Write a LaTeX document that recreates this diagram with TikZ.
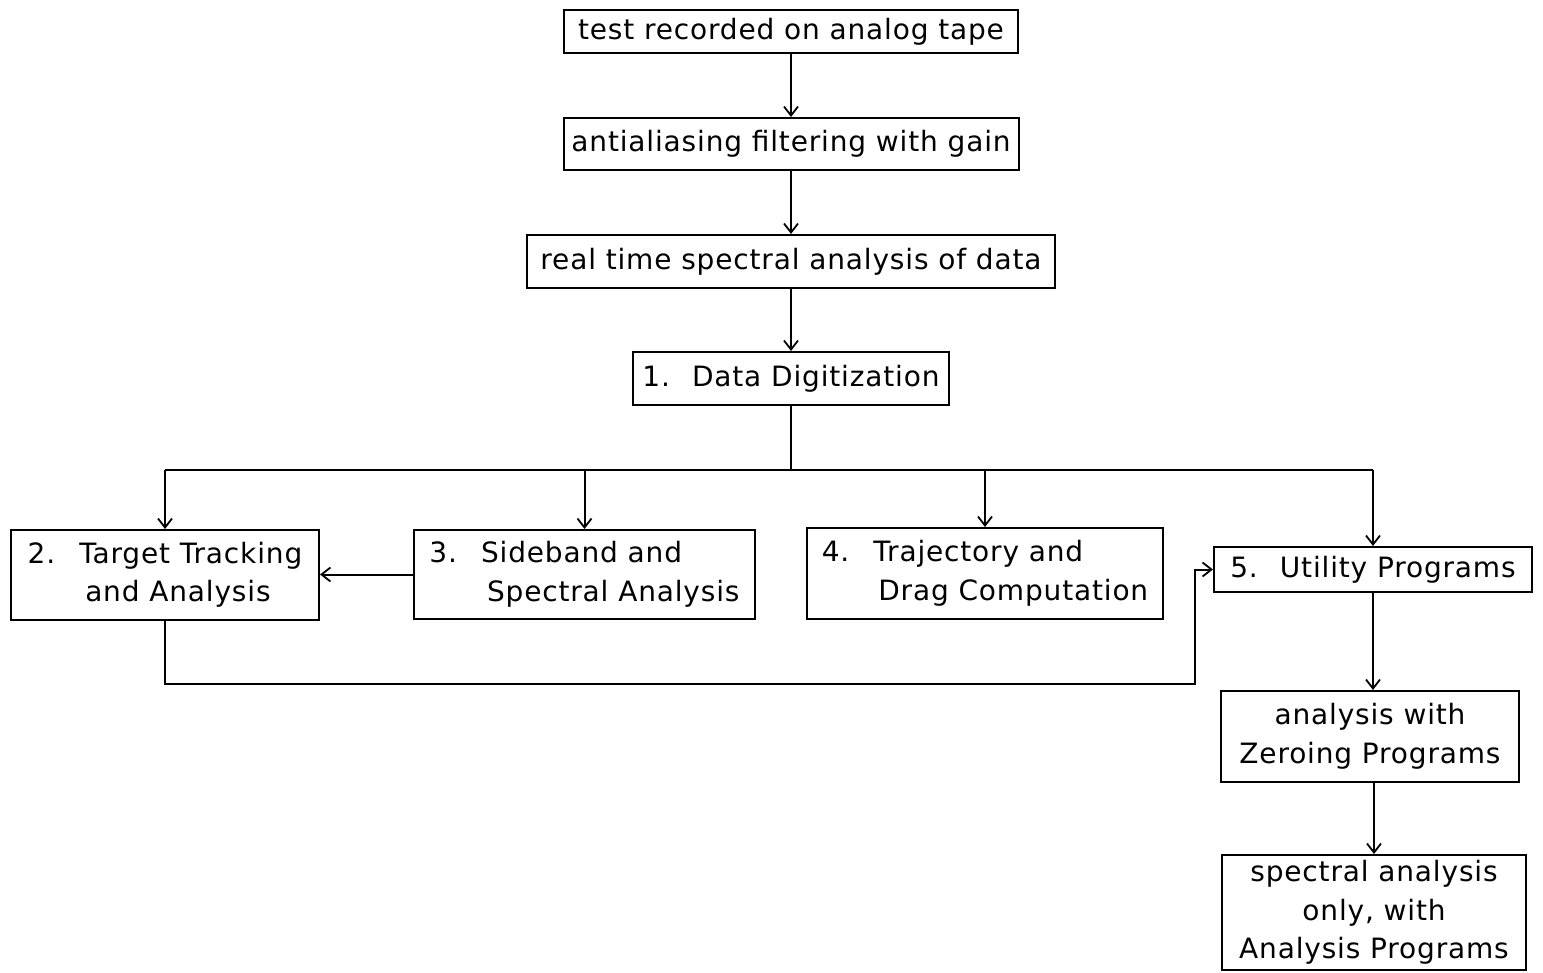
\documentclass[tikz,border=0pt]{standalone}
\usepackage{fontspec}
\setmainfont{DejaVu Sans}[LetterSpace=3]
\usetikzlibrary{arrows.meta}
\begin{document}
\begin{tikzpicture}[x=1pt,y=-1pt,
  box/.style={draw, line width=2pt, inner sep=0pt, align=center,
    font=\fontsize{28}{38.5}\selectfont},
  arr/.style={line width=2pt, -{Straight Barb[length=9pt,width=14pt,line width=1.8pt]}},
  ln/.style={line width=2pt}]
\useasboundingbox (0,0) rectangle (1543,973);
\node[box, minimum width=454pt, minimum height=43pt] (top) at (791,31.5) {test recorded on analog tape};
\node[box, minimum width=455pt, minimum height=52pt] (anti) at (791,144) {antialiasing filtering with gain};
\node[box, minimum width=528pt, minimum height=53pt] (real) at (791,261.5) {real time spectral analysis of data};
\node[box, minimum width=316pt, minimum height=53pt] (dd) at (791,378.5) {1.\hspace{22pt}Data Digitization};
\node[box, minimum width=308pt, minimum height=90pt] (b2) at (165,575)
  {\begin{tabular}{@{}l@{\hspace{24pt}}l@{}}2. & Target Tracking\\ & \hspace{6pt}and Analysis\end{tabular}};
\node[box, minimum width=341pt, minimum height=89pt] (b3) at (584.5,574.5)
  {\begin{tabular}{@{}l@{\hspace{24pt}}l@{}}3. & Sideband and\\ & \hspace{6pt}Spectral Analysis\end{tabular}};
\node[box, minimum width=356pt, minimum height=91pt] (b4) at (985,573.5)
  {\begin{tabular}{@{}l@{\hspace{24pt}}l@{}}4. & Trajectory and\\ & \hspace{5pt}Drag Computation\end{tabular}};
\node[box, minimum width=318pt, minimum height=45pt] (b5) at (1373,569.5) {5.\hspace{22pt}Utility Programs};
\node[box, minimum width=298pt, minimum height=91pt] (zero) at (1370,736.5) {analysis with\\Zeroing Programs};
\node[box, minimum width=304pt, minimum height=115pt] (spec) at (1374,912.5) {spectral analysis\\only, with\\Analysis Programs};
\coordinate (bus) at (793,470);
\coordinate (busL) at (165,470);
\coordinate (busR) at (1373,470);
\coordinate (loop) at (1195,684);
\draw[arr] (top) -- (anti);
\draw[arr] (anti) -- (real);
\draw[arr] (real) -- (dd);
\draw[ln] (dd.south) -- (dd.south |- bus);
\draw[ln] (busL) -- (busR);
\draw[arr] (busL) -- (b2.north);
\draw[arr] (b3.north |- bus) -- (b3.north);
\draw[arr] (b4.north |- bus) -- (b4.north);
\draw[arr] (busR) -- (b5.north);
\draw[arr] (b3.west) -- (b3.west -| b2.east);
\draw[arr] (b2.south) |- (loop) |- (b5.west);
\draw[arr] (b5.south) -- (b5.south |- zero.north);
\draw[arr] (zero.south -| spec.north) -- (spec.north);
\end{tikzpicture}
\end{document}
